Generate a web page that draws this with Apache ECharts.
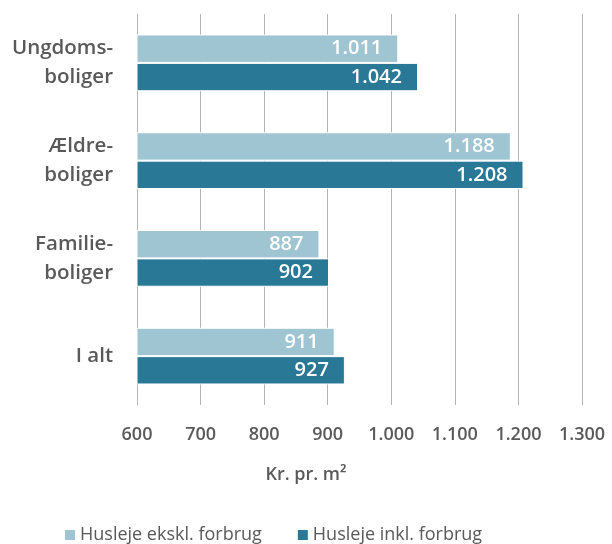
<!DOCTYPE html>
<html>
<head>
<meta charset="utf-8">
<script src="https://cdn.jsdelivr.net/npm/echarts@6/dist/echarts.min.js"></script>
<style>
    html, body { margin: 0; padding: 0; background: #fff; }
    #chart { width: 612px; height: 544px; }
</style>
</head>
<body>
<div id="chart"></div>
<script>
    var categories = ['Ungdoms-\nboliger', 'Ældre-\nboliger', 'Familie-\nboliger', 'I alt'];
    var ekskl = [1011, 1188, 887, 911];
    var inkl = [1042, 1208, 902, 927];
    var seriesNames = ['Husleje ekskl. forbrug', 'Husleje inkl. forbrug'];

    var grey = '#595959';
    var font = '"Open Sans", "Noto Sans", sans-serif';

    // dansk tusindtalsseparator
    function fmt(v) {
        return String(v).replace(/\B(?=(\d{3})+(?!\d))/g, '.');
    }

    var myChart = echarts.init(document.getElementById('chart'));
    myChart.setOption({
        animation: false,
        textStyle: { fontFamily: font },
        title: {
            text: 'Kr. pr. m²',
            left: 'center',
            top: 461,
            textStyle: { fontFamily: font, fontSize: 18, fontWeight: 600, color: grey }
        },
        legend: {
            top: 521,
            left: 58,
            itemWidth: 12,
            itemHeight: 12,
            itemGap: 34,
            icon: 'rect',
            textStyle: { fontFamily: font, fontSize: 18, color: grey, padding: [0, 0, 0, -1] },
            data: seriesNames
        },
        grid: { left: 137, right: 30, top: 14, bottom: 139, containLabel: false },
        xAxis: {
            type: 'value',
            min: 600,
            max: 1300,
            interval: 100,
            axisLine: { show: false },
            axisTick: { show: false },
            splitLine: { show: true, lineStyle: { color: '#b3b3b3', width: 1 } },
            axisLabel: {
                margin: 21,
                fontFamily: font, fontSize: 18, fontWeight: 600, color: grey,
                formatter: fmt
            }
        },
        yAxis: {
            type: 'category',
            inverse: true,
            data: categories,
            axisLine: { show: true, lineStyle: { color: '#b3b3b3' } },
            axisTick: { show: false },
            axisLabel: {
                margin: 24,
                fontFamily: font, fontSize: 20.5, fontWeight: 600, color: grey,
                lineHeight: 29, align: 'right'
            }
        },
        series: [
            {
                name: seriesNames[0],
                type: 'bar',
                data: ekskl,
                barGap: '0%',
                barCategoryGap: '42%',
                itemStyle: { color: '#9fc4d2', borderColor: '#fff', borderWidth: 1 },
                label: {
                    show: true, position: 'insideRight', distance: 16,
                    color: '#fff', fontFamily: font, fontSize: 20, fontWeight: 600,
                    formatter: function (p) { return fmt(p.value); }
                }
            },
            {
                name: seriesNames[1],
                type: 'bar',
                data: inkl,
                itemStyle: { color: '#287896', borderColor: '#fff', borderWidth: 1 },
                label: {
                    show: true, position: 'insideRight', distance: 16,
                    color: '#fff', fontFamily: font, fontSize: 20, fontWeight: 600,
                    formatter: function (p) { return fmt(p.value); }
                }
            }
        ]
    });
</script>
</body>
</html>
